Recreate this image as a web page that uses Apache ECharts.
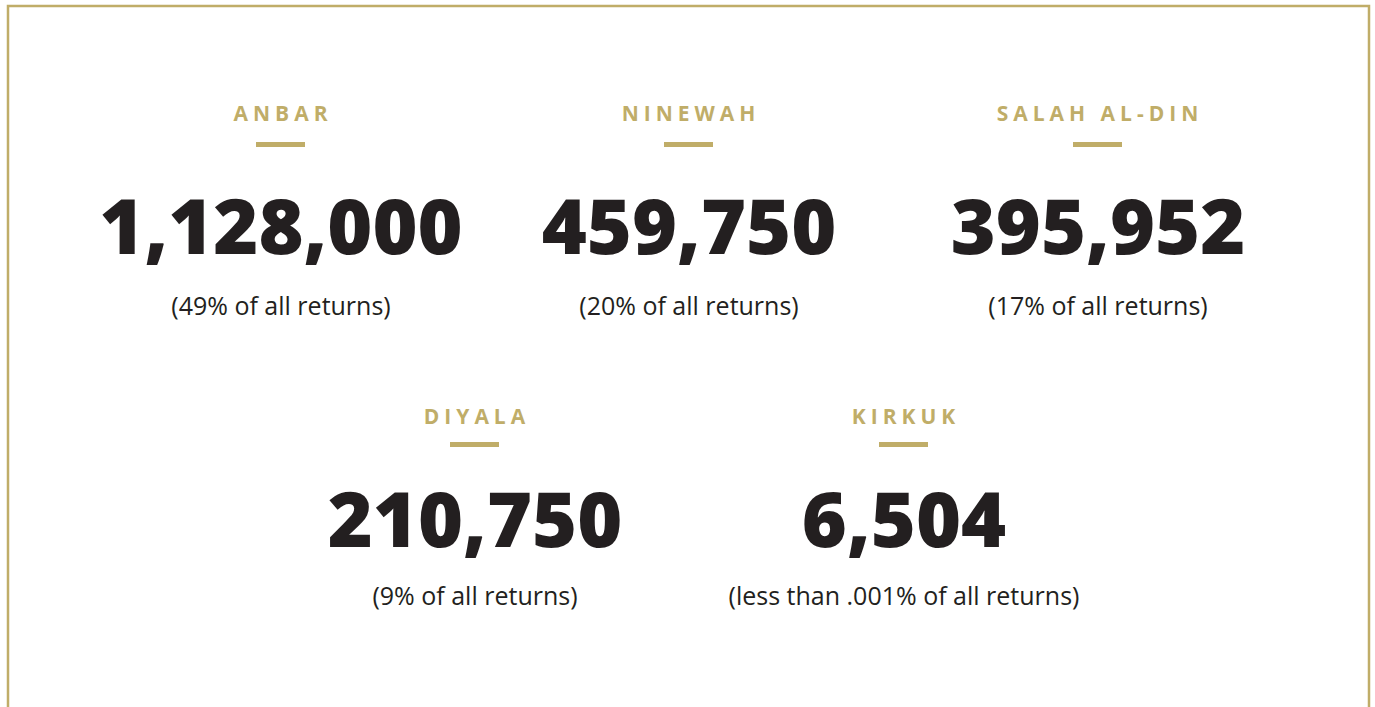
<!DOCTYPE html>
<html>
<head>
<meta charset="utf-8">
<script src="https://cdn.jsdelivr.net/npm/echarts@6/dist/echarts.min.js"></script>
<style>
    html, body { margin: 0; padding: 0; background: #fff; }
    #main { width: 1375px; height: 707px; }
</style>
</head>
<body>
<div id="main"></div>
<script>
// data
var regions = ['ANBAR', 'NINEWAH', 'SALAH AL-DIN', 'DIYALA', 'KIRKUK'];
var returns = [1128000, 459750, 395952, 210750, 6504];
var shares = ['49%', '20%', '17%', '9%', 'less than .001%'];

// layout: which row each card sits in, and its centre x
var cardRow = [0, 0, 0, 1, 1];
var cardX = [281, 689, 1098, 475, 904];
var rows = [
    {title: 113, bar: 142, num: 224, cap: 305},
    {title: 416, bar: 442, num: 517, cap: 595}
];

var gold = '#c0ad68';
var ink = '#231f20';
var spacing = 5;

var myChart = echarts.init(document.getElementById('main'), null, {renderer: 'svg'});

var elements = [{
    type: 'rect',
    shape: {x: 8, y: 6, width: 1361, height: 720},
    style: {fill: 'none', stroke: gold, lineWidth: 2.5},
    silent: true
}];

regions.forEach(function (name, i) {
    var r = rows[cardRow[i]];
    var x = cardX[i];
    elements.push({
        type: 'text',
        x: x + 2, y: r.title,
        style: {
            text: name, fill: gold, align: 'center', verticalAlign: 'middle',
            font: 'bold 21px "Open Sans"'
        }
    });
    elements.push({
        type: 'rect',
        shape: {x: x - 25, y: r.bar, width: 49, height: 5},
        style: {fill: gold}
    });
    elements.push({
        type: 'text',
        x: x, y: r.num,
        style: {
            text: returns[i].toLocaleString('en-US'), fill: ink,
            align: 'center', verticalAlign: 'middle',
            font: '800 77px "Open Sans"'
        }
    });
    elements.push({
        type: 'text',
        x: x, y: r.cap,
        style: {
            text: '(' + shares[i] + ' of all returns)', fill: ink,
            align: 'center', verticalAlign: 'middle',
            font: '25px "Open Sans"'
        }
    });
});

myChart.setOption({
    backgroundColor: '#fff',
    graphic: {elements: elements}
});

// tracking on the gold region names
document.querySelectorAll('#main text').forEach(function (t) {
    if (regions.indexOf(t.textContent) >= 0) {
        t.style.letterSpacing = spacing + 'px';
    }
});
</script>
</body>
</html>
